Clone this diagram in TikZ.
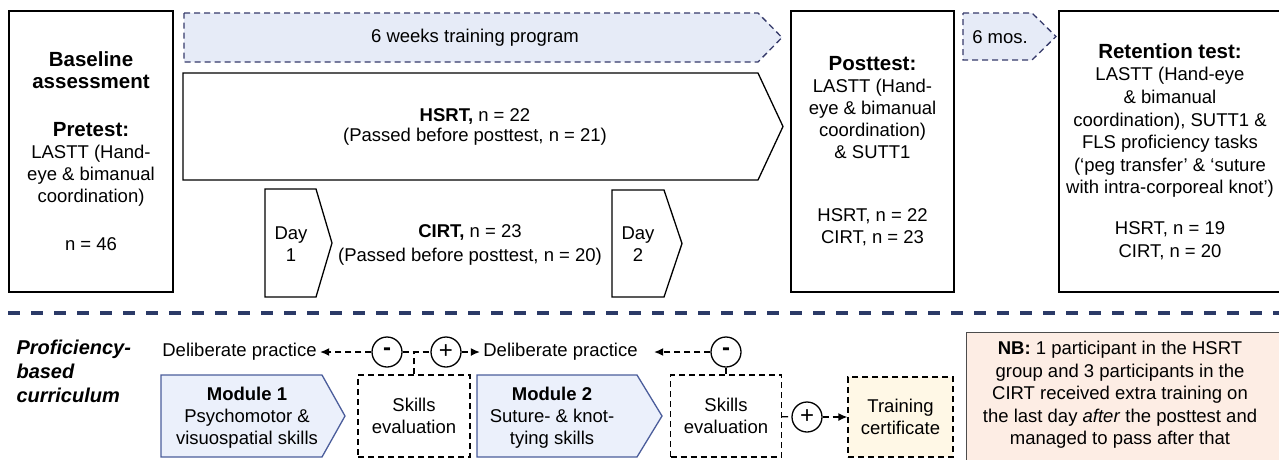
\documentclass[tikz,border=0pt]{standalone}
\usepackage{fontspec}
\setmainfont{Liberation Sans}
\usetikzlibrary{arrows.meta}

\definecolor{navy}{HTML}{2B3A67}
\definecolor{weekblue}{HTML}{E6EBF7}
\definecolor{weekline}{HTML}{363A6A}
\definecolor{modfill}{HTML}{EBF0FB}
\definecolor{modline}{HTML}{4B5D9B}
\definecolor{certfill}{HTML}{FFF8E6}
\definecolor{nbfill}{HTML}{FDEDE4}

\newcommand{\headfont}{\fontsize{20.5}{22}\selectfont\bfseries}

\begin{document}
\begin{tikzpicture}[x=1pt,y=-1pt,
    every node/.style={font=\fontsize{18.5}{22}\selectfont,align=center},
    testbox/.style={draw,line width=1.3pt,inner sep=0pt},
    trackbox/.style={draw,line width=1.3pt},
    weekbox/.style={draw=weekline,fill=weekblue,line width=1.3pt,dash pattern=on 6pt off 4pt},
    modbox/.style={draw=modline,fill=modfill,line width=1.3pt},
    evalbox/.style={draw,line width=1.3pt,dash pattern=on 6pt off 4pt,minimum width=112pt,minimum height=82pt},
    signbox/.style={circle,draw,line width=1.3pt,minimum size=30pt,inner sep=0pt,font=\fontsize{24}{24}\selectfont},
    dline/.style={line width=1.3pt,dash pattern=on 6pt off 4pt},
    dparrow/.style={-{Latex[length=9pt,width=8pt]}}
  ]
    \path[use as bounding box,clip] (0,0) rectangle (1279,459);

    % top row: tests and training tracks
    \node[testbox,minimum width=164pt,minimum height=281pt] (base) at (91,151.5)
      {{\headfont Baseline}\\ {\headfont assessment}\\[26pt]
       {\headfont Pretest:}\\ LASTT (Hand-\\ eye \& bimanual\\ coordination)\\[26pt] n = 46};
    \draw[weekbox] (184,13) -- (758,13) -- (782,37.5) -- (758,62) -- (184,62) -- cycle;
    \node (weeks) at (475,37.5) {6 weeks training program};
    \draw[trackbox] (183,73) -- (758,73) -- (783,126.5) -- (758,180) -- (183,180) -- cycle;
    \node (hsrt) at (475,127) {\textbf{HSRT,} n = 22\\[-2pt] (Passed before posttest, n = 21)};
    \draw[trackbox] (265,189) -- (316,189) -- (332,243) -- (316,297) -- (265,297) -- cycle;
    \node (day1) at (291,244) {Day\\ 1};
    \node (cirt) at (470,245) {\textbf{CIRT,} n = 23\\[2pt] (Passed before posttest, n = 20)};
    \draw[trackbox] (612,190) -- (664,190) -- (682,243.5) -- (664,297) -- (612,297) -- cycle;
    \node (day2) at (638,244) {Day\\ 2};
    \node[testbox,minimum width=163pt,minimum height=281pt] (post) at (872.5,151.5)
      {{\headfont Posttest:}\\ LASTT (Hand-\\ eye \& bimanual\\ coordination)\\ \& SUTT1\\[41pt]
       HSRT, n = 22\\ CIRT, n = 23};
    \draw[weekbox] (963,13) -- (1032,13) -- (1056,36.5) -- (1032,60) -- (963,60) -- cycle;
    \node (mos) at (1000,37) {6 mos.};
    \node[testbox,minimum width=222pt,minimum height=281pt,font=\fontsize{18.5}{22.6}\selectfont] (ret) at (1170,151.5)
      {{\headfont Retention test:}\\ LASTT (Hand-eye\\ \& bimanual\\ coordination), SUTT1 \&\\
       FLS proficiency tasks\\ (‘peg transfer’ \& ‘suture\\ with intra-corporeal knot’)\\[18pt]
       HSRT, n = 19\\ CIRT, n = 20};

    \draw[navy,line width=4pt,dash pattern=on 12pt off 11pt] (8,313) -- (1279,313);

    % bottom row: curriculum
    \node[anchor=west,align=left,font=\fontsize{20}{24}\selectfont\bfseries\itshape] (pbc) at (13,371)
      {Proficiency-\\ based\\ curriculum};
    \node (dp1) at (239.5,352) {Deliberate practice};
    \node[signbox] (m1) at (387,352) {\textbf{-}};
    \node[signbox] (p1) at (446,352) {+};
    \node (dp2) at (560.5,352) {Deliberate practice};
    \node[signbox] (m2) at (726,352) {\textbf{-}};
    \draw[modbox] (161,375) -- (322,375) -- (345,416) -- (322,457) -- (161,457) -- cycle;
    \node (mod1) at (247,418) {\textbf{Module 1}\\ Psychomotor \&\\ visuospatial skills};
    \node[evalbox] (se1) at (414,416) {Skills\\ evaluation};
    \draw[modbox] (477,375) -- (637,375) -- (662,416) -- (637,457) -- (477,457) -- cycle;
    \node (mod2) at (552,418) {\textbf{Module 2}\\ Suture- \& knot-\\ tying skills};
    \node[evalbox,minimum width=111pt] (se2) at (726,416) {Skills\\ evaluation};
    \node[signbox] (p2) at (807,417) {+};
    \node[evalbox,fill=certfill,minimum width=105pt,minimum height=80pt] (cert) at (900.5,417) {Training\\ certificate};
    \node[draw=black!70,fill=nbfill,line width=1.3pt,minimum width=330pt,minimum height=140pt,anchor=north west] (nbbox) at (966,332) {};
    \node[font=\fontsize{18.5}{22.5}\selectfont] (nb) at (1120,395)
      {\textbf{NB:} 1 participant in the HSRT\\ group and 3 participants in the\\ CIRT received extra training on\\
       the last day \textit{after} the posttest and\\ managed to pass after that};

    \draw[dline,dparrow] (m1) -- (dp1);
    \draw[dline] (m1) -- (p1);
    \draw[dline] (se1.north) -- (se1.north |- m1);
    \draw[dline,dparrow] (p1) -- (dp2);
    \draw[dline,dparrow,shorten >=13pt] (m2) -- (dp2);
    \draw[dline] (se2.north) -- (m2);
    \draw[dline] (se2) -- (p2);
    \draw[dline,dparrow] (p2) -- (cert);
\end{tikzpicture}
\end{document}
